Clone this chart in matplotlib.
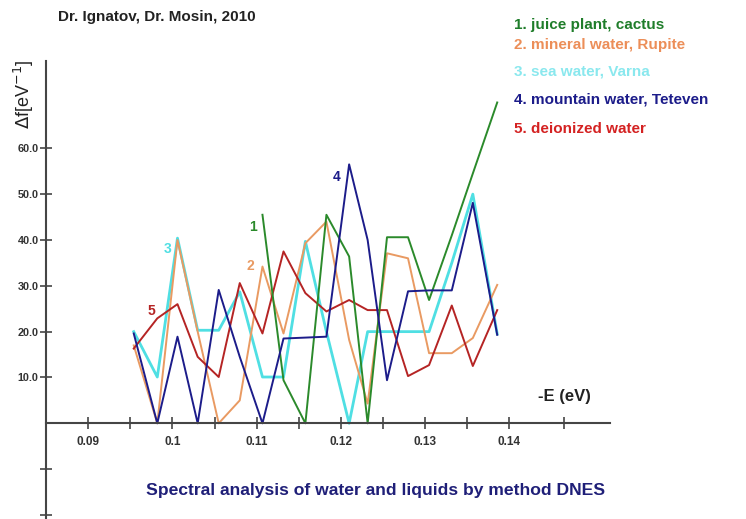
import matplotlib
matplotlib.use("Agg")
import matplotlib.pyplot as plt

plt.rcParams['font.family'] = ['Liberation Sans', 'DejaVu Sans']

# energy positions (-E, eV) shared by the series
energy = [0.0954, 0.0982, 0.1006, 0.1030, 0.1055, 0.1080, 0.1107, 0.1132, 0.1158,
          0.1183, 0.1210, 0.1232, 0.1255, 0.1280, 0.1305, 0.1332, 0.1357, 0.1386]

# 1. juice plant, cactus (starts at the 7th energy point)
juice_cactus = [45.5, 9.4, 0.0, 45.5, 36.4, 0.0, 40.6, 40.6, 26.9, 41.0, 54.5, 70.0]
# 2. mineral water, Rupite
mineral_rupite = [17.0, 0.0, 40.0, 20.0, 0.0, 5.0, 34.2, 19.6, 39.3, 44.0,
                  18.2, 4.3, 37.1, 36.0, 15.3, 15.3, 18.6, 30.2]
# 3. sea water, Varna
sea_varna = [20.0, 10.1, 40.4, 20.3, 20.3, 28.7, 10.1, 10.1, 39.7, 20.0,
             0.0, 20.0, 20.0, 20.0, 20.0, 35.0, 50.0, 19.5]
# 4. mountain water, Teteven
mountain_teteven = [19.6, 0.0, 18.9, 0.0, 29.1, 14.5, 0.0, 18.5, 18.7, 18.9,
                    56.5, 40.0, 9.4, 28.8, 29.0, 29.0, 48.1, 19.3]
# 5. deionized water
deionized = [16.3, 22.9, 26.0, 14.5, 10.1, 30.6, 19.6, 37.5, 28.4, 24.4,
             26.9, 24.7, 24.7, 10.3, 12.7, 25.7, 12.5, 24.7]

legend_labels = ["1. juice plant, cactus", "2. mineral water, Rupite", "3. sea water, Varna",
                 "4. mountain water, Teteven", "5. deionized water"]

x_major = [0.09, 0.10, 0.11, 0.12, 0.13, 0.14]
x_major_labels = ["0.09", "0.1", "0.11", "0.12", "0.13", "0.14"]
x_minor = [0.095, 0.105, 0.115, 0.125, 0.135, 0.1465]
y_ticks = [-20, -10, 10, 20, 30, 40, 50, 60]
y_tick_labels = ["", "", "10.0", "20.0", "30.0", "40.0", "50.0", "60.0"]

c_green = '#2b8a2b'
c_orange = '#e99a62'
c_cyan = '#4fdfe3'
c_blue = '#1c1c8a'
c_red = '#b52424'
axis_col = '#454545'

fig = plt.figure(figsize=(7.46, 5.19), dpi=100)
ax = fig.add_axes([0, 0, 1, 1])
ax.set_xlim(0.079506, 0.168167)
ax.set_ylim(-20.88, 92.36)

# axes cross at (0.085, 0)
ax.spines['top'].set_visible(False)
ax.spines['right'].set_visible(False)
ax.spines['left'].set_position(('data', 0.085))
ax.spines['bottom'].set_position(('data', 0))
ax.spines['left'].set_bounds(-20.88, 79)
ax.spines['bottom'].set_bounds(0.085, 0.152)
for s in ['left', 'bottom']:
    ax.spines[s].set_color(axis_col)
    ax.spines[s].set_linewidth(1.5)

ax.set_xticks(x_major)
ax.set_xticklabels(x_major_labels, fontsize=8.5, fontweight='bold', color='#333333')
ax.set_xticks(x_minor, minor=True)
ax.set_yticks(y_ticks)
ax.set_yticklabels(y_tick_labels, fontsize=7.8, fontweight='bold', color='#333333')
ax.tick_params(which='both', direction='inout', length=8, width=1.2, color=axis_col)
ax.tick_params(axis='x', pad=5)
ax.tick_params(axis='y', pad=1.5)

# Draw lines
ax.plot(energy, sea_varna, color=c_cyan, lw=2.0)
ax.plot(energy, mineral_rupite, color=c_orange, lw=1.4)
ax.plot(energy, deionized, color=c_red, lw=1.4)
ax.plot(energy[6:], juice_cactus, color=c_green, lw=1.4)
ax.plot(energy, mountain_teteven, color=c_blue, lw=1.4)

# series numbers
ax.text(0.10957, 42.9, "1", color=c_green, fontsize=10, fontweight='bold', ha='center', va='center')
ax.text(0.10922, 34.3, "2", color=c_orange, fontsize=10, fontweight='bold', ha='center', va='center')
ax.text(0.09947, 38.0, "3", color=c_cyan, fontsize=10, fontweight='bold', ha='center', va='center')
ax.text(0.11956, 53.8, "4", color=c_blue, fontsize=10, fontweight='bold', ha='center', va='center')
ax.text(0.09753, 24.6, "5", color=c_red, fontsize=10, fontweight='bold', ha='center', va='center')

# legend written as coloured text
legend_cols = ['#1f7d2a', '#ec8e58', '#8ae8ee', '#1c1c8a', '#d42222']
legend_y = [25, 45, 72, 99, 129]
for lab, col, yy in zip(legend_labels, legend_cols, legend_y):
    fig.text(514 / 746, 1 - yy / 519, lab, color=col, fontsize=11, fontweight='bold',
             ha='left', va='center')

fig.text(58 / 746, 1 - 17 / 519, "Dr. Ignatov, Dr. Mosin, 2010", fontsize=11,
         fontweight='bold', color='#222222', ha='left', va='center')
fig.text(24 / 746, 1 - 94 / 519, r"$\Delta$f[eV$^{-1}$]", fontsize=13, rotation=90,
         color='#222222', ha='center', va='center')
fig.text(538 / 746, 1 - 396 / 519, "-E (eV)", fontsize=12, fontweight='bold',
         color='#222222', ha='left', va='center')
fig.text(376 / 746, 1 - 491 / 519, "Spectral analysis of water and liquids by method DNES",
         fontsize=12.6, fontweight='bold', color='#1f1f78', ha='center', va='center')

fig.savefig("out.png", dpi=100)
